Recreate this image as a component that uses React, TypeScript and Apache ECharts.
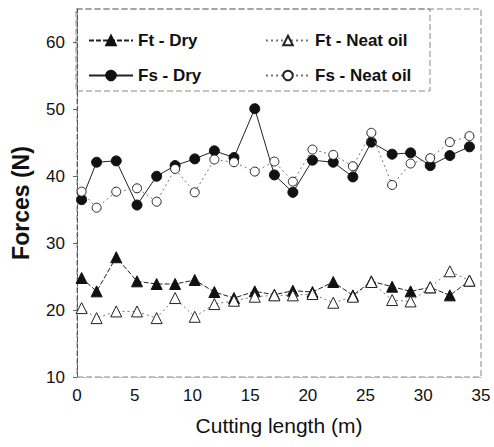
import React, { useEffect, useRef } from "react";
import * as echarts from "echarts";

const cuttingLength = [0.4, 1.7, 3.4, 5.2, 6.9, 8.5, 10.2, 11.9, 13.6, 15.4, 17.1, 18.7, 20.4, 22.2, 23.9, 25.5, 27.3, 28.9, 30.6, 32.3, 34.0];
const ftDry = [24.8, 22.8, 27.9, 24.3, 23.9, 23.9, 24.5, 22.7, 21.8, 22.8, 22.3, 22.9, 22.7, 24.2, 22.2, 24.3, 23.5, 22.8, 23.4, 22.2, 24.4];
const ftNeat = [20.3, 18.8, 19.8, 19.8, 18.8, 21.8, 19.0, 20.9, 21.4, 22.0, 22.2, 22.2, 22.4, 21.1, 22.0, 24.2, 21.5, 21.3, 23.4, 25.8, 24.4];
const fsDry = [36.5, 42.1, 42.3, 35.7, 40.0, 41.6, 42.6, 43.8, 42.8, 50.1, 40.2, 37.6, 42.4, 42.1, 39.9, 45.1, 43.3, 43.5, 41.6, 43.1, 44.4];
const fsNeat = [37.7, 35.3, 37.7, 38.2, 36.2, 41.1, 37.6, 42.5, 42.1, 40.7, 42.2, 39.2, 44.0, 43.2, 41.5, 46.5, 38.7, 41.9, 42.7, 45.1, 46.0];
const seriesNames = ["Ft - Dry", "Fs - Dry", "Ft - Neat oil", "Fs - Neat oil"];

const FONT = "'Liberation Sans', Arial, sans-serif";

const pairs = (ys: number[]) => cuttingLength.map((x, i) => [x, ys[i]]);

export default function App() {
  const ref = useRef<HTMLDivElement>(null);
  useEffect(() => {
    if (!ref.current) return;
    const chart = echarts.init(ref.current, undefined, { renderer: "svg" });
    const legendText = { fontFamily: FONT, fontSize: 17, fontWeight: "bold" as const, color: "#111" };
    const legendBase = {
      itemWidth: 44,
      itemHeight: 12,
      itemGap: 0,
      textStyle: legendText,
      selectedMode: false,
    };
    chart.setOption({
      animation: false,
      backgroundColor: "#fff",
      grid: { left: 77, right: 13, top: 9, bottom: 70 },
      legend: [
        { ...legendBase, data: [seriesNames[0]], left: 83, top: 27 },
        { ...legendBase, data: [seriesNames[2]], left: 260, top: 27 },
        { ...legendBase, data: [seriesNames[1]], left: 83, top: 62 },
        { ...legendBase, data: [seriesNames[3]], left: 260, top: 62 },
      ],
      xAxis: {
        type: "value",
        min: 0,
        max: 35,
        interval: 5,
        name: "Cutting length (m)",
        nameLocation: "middle",
        nameGap: 38,
        nameTextStyle: { fontFamily: FONT, fontSize: 21, color: "#111" },
        axisLine: { show: true, lineStyle: { color: "#aaa", type: [2, 4], width: 1 } },
        axisTick: { show: false },
        axisLabel: { fontFamily: FONT, fontSize: 17, color: "#111", margin: 10 },
        splitLine: { show: false },
      },
      yAxis: {
        type: "value",
        min: 10,
        max: 65,
        interval: 10,
        axisLine: { show: true, lineStyle: { color: "#555", type: [5, 2], width: 1 } },
        axisTick: { show: true, inside: false, length: 4, lineStyle: { color: "#666" } },
        axisLabel: { fontFamily: FONT, fontSize: 17, color: "#111", margin: 12, showMaxLabel: false },
        splitLine: { show: false },
      },
      graphic: [
        {
          type: "rect",
          shape: { x: 77, y: 9, width: 404, height: 368 },
          style: { fill: "none", stroke: "#888", lineWidth: 1, lineDash: [6, 3] },
          silent: true,
          z: -1,
        },
        {
          type: "rect",
          shape: { x: 76, y: 9, width: 354, height: 82 },
          style: { fill: "none", stroke: "#888", lineWidth: 1, lineDash: [6, 3] },
          silent: true,
          z: -1,
        },
        {
          type: "text",
          x: 21,
          y: 203,
          rotation: Math.PI / 2,
          style: {
            text: "Forces (N)",
            fontFamily: FONT,
            fontSize: 23,
            fontWeight: "bold",
            fill: "#111",
            align: "center",
            verticalAlign: "middle",
          },
        },
      ],
      series: [
        {
          name: seriesNames[0],
          type: "line",
          data: pairs(ftDry),
          symbol: "triangle",
          symbolSize: 11,
          itemStyle: { color: "#111", borderColor: "#111", borderWidth: 1 },
          lineStyle: { color: "#222", width: 1, type: [5, 2] },
          z: 2,
        },
        {
          name: seriesNames[1],
          type: "line",
          data: pairs(fsDry),
          symbol: "circle",
          symbolSize: 10,
          itemStyle: { color: "#111", borderColor: "#111", borderWidth: 1 },
          lineStyle: { color: "#222", width: 1 },
          z: 2,
        },
        {
          name: seriesNames[2],
          type: "line",
          data: pairs(ftNeat),
          symbol: "triangle",
          symbolSize: 11,
          itemStyle: { color: "#fff", borderColor: "#222", borderWidth: 1 },
          lineStyle: { color: "#777", width: 1, type: [2, 3] },
          z: 3,
        },
        {
          name: seriesNames[3],
          type: "line",
          data: pairs(fsNeat),
          symbol: "circle",
          symbolSize: 9,
          itemStyle: { color: "#fff", borderColor: "#222", borderWidth: 1 },
          lineStyle: { color: "#777", width: 1, type: [2, 3] },
          z: 3,
        },
      ],
    });
    return () => chart.dispose();
  }, []);
  return <div ref={ref} style={{ position: "fixed", left: 0, top: 0, width: 494, height: 447 }} />;
}
